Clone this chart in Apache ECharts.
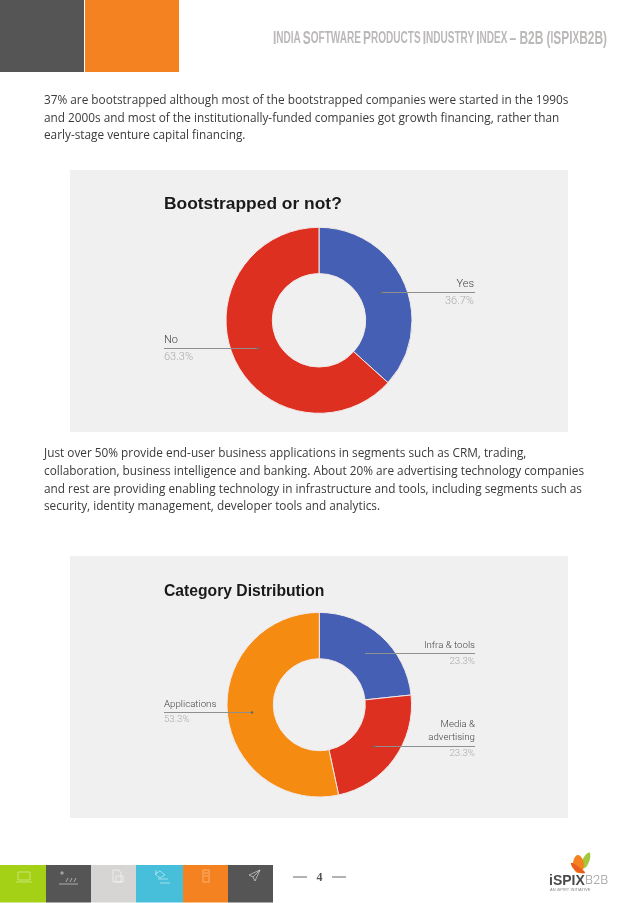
<!DOCTYPE html>
<html>
<head>
<meta charset="utf-8">
<style>html,body{margin:0;padding:0;background:#fff}#c{width:638px;height:903px}</style>
<script src="https://cdn.jsdelivr.net/npm/echarts@6/dist/echarts.min.js"></script>
</head>
<body>
<div id="c"></div>
<script>
// ---- data ----
const chart1Title = 'Bootstrapped or not?';
const chart1Names = ['Yes', 'No'];
const chart1Values = [36.7, 63.3];
const chart1Labels = ['36.7%', '63.3%'];
const chart2Title = 'Category Distribution';
const chart2Names = ['Infra & tools', 'Media &\nadvertising', 'Applications'];
const chart2Values = [23.3, 23.3, 53.3];
const chart2Labels = ['23.3%', '23.3%', '53.3%'];
const para1 = ['37% are bootstrapped although most of the bootstrapped companies were started in the 1990s',
  'and 2000s and most of the institutionally-funded companies got growth financing, rather than',
  'early-stage venture capital financing.'];
const para2 = ['Just over 50% provide end-user business applications in segments such as CRM, trading,',
  'collaboration, business intelligence and banking. About 20% are advertising technology companies',
  'and rest are providing enabling technology in infrastructure and tools, including segments such as',
  'security, identity management, developer tools and analytics.'];

const BODY = '"Open Sans"', LABEL = 'Roboto', TITLE = '"Liberation Sans"';
const g = [];
const rect = (x, y, w, h, fill, z) => g.push({type:'rect', z:z||0, shape:{x,y,width:w,height:h}, style:{fill}});
const text = (x, y, t, o) => g.push(Object.assign({type:'text', z:(o.z||20), x, y,
  style:{text:t, font:o.font, fill:o.fill, align:o.align||'left', verticalAlign:'middle'}}, o.extra||{}));
const line = (x1, y, x2, c, w, z) => g.push({type:'line', z:z||15, shape:{x1,y1:y,x2,y2:y}, style:{stroke:c, lineWidth:w||1}});
const dot = (x, y) => g.push({type:'circle', z:16, shape:{cx:x,cy:y,r:1.2}, style:{fill:'#666'}});

// header
rect(0, 0, 84, 72, '#555556');
rect(85, 0, 94, 72, '#f58220');
g.push({type:'text', z:20, x:607, y:39, scaleX:0.627, style:{
  align:'right', verticalAlign:'middle',
  text:'{b|I}{s|NDIA} {b|S}{s|OFTWARE} {b|P}{s|RODUCTS} {b|I}{s|NDUSTRY} {b|I}{s|NDEX} {b|– B2B (}{s|I}{b|SPI}{s|X}{b|B2B)}',
  rich:{
    b:{font:'bold 19px "Liberation Sans"', fill:'#bbb8b8'},
    s:{font:'bold 16px "Liberation Sans"', fill:'#bbb8b8'}
  }}});

// body text
para1.forEach((t, i) => text(44, 101 + i * 17.5, t, {font:'11.8px ' + BODY, fill:'#3a3a3a'}));
para2.forEach((t, i) => text(44, 454 + i * 17.6, t, {font:'11.8px ' + BODY, fill:'#3a3a3a'}));

// panels
rect(70, 170, 498, 262, '#f0f0f0');
rect(70, 556, 498, 262, '#f0f0f0');

// chart titles
text(164, 204, chart1Title, {font:'bold 17.4px ' + TITLE, fill:'#1a1a1a'});
text(164, 592, chart2Title, {font:'bold 15.7px ' + TITLE, fill:'#1a1a1a'});

// chart 1 callouts
const font1 = '300 11px ' + LABEL, font2 = '300 9.7px ' + LABEL, nameCol = '#444', pctCol = '#ababab';
const leader = '#8f8f8f';
text(474, 284, chart1Names[0], {font:font1, fill:nameCol, align:'right'});
line(381, 292.5, 475, leader); dot(381, 292.5);
text(474, 301, chart1Labels[0], {font:font1, fill:pctCol, align:'right'});
text(164, 340, chart1Names[1], {font:font1, fill:nameCol});
line(164, 348.5, 258, leader); dot(258, 348.5);
text(164, 357, chart1Labels[1], {font:font1, fill:pctCol});

// chart 2 callouts
text(475, 646, chart2Names[0], {font:font2, fill:nameCol, align:'right'});
line(365, 653.5, 475, leader);
text(475, 661.5, chart2Labels[0], {font:font2, fill:pctCol, align:'right'});
const media = chart2Names[1].split('\n');
text(475, 725, media[0], {font:font2, fill:nameCol, align:'right'});
text(475, 738, media[1], {font:font2, fill:nameCol, align:'right'});
line(374, 746.5, 475, leader); dot(374, 746.5);
text(475, 754, chart2Labels[1], {font:font2, fill:pctCol, align:'right'});
text(164, 704.5, chart2Names[2], {font:font2, fill:nameCol});
line(164, 712.5, 252, leader); dot(252, 712.5);
text(164, 720, chart2Labels[2], {font:font2, fill:pctCol});

// footer tiles
[[0,46,'#a4d116'],[46,45,'#555556'],[91,45,'#d6d5d3'],[136,47,'#47bfdb'],[183,45,'#f58220'],[228,45,'#555556']]
  .forEach(t => rect(t[0], 865, t[1], 37.5, t[2]));

// footer icons
const icon = (c, ...runs) => runs.forEach(points => g.push({type:'polyline', z:20, shape:{points}, style:{fill:null, stroke:c, lineWidth:0.7, opacity:0.8}}));
icon('#e9f5b8', [[18,872],[30,872],[30,880],[18,880],[18,872]], [[16,882],[32,882]]);
icon('#f2f2f2', [[62,871],[62,875]], [[60,873],[64,873]], [[59,884],[78,884]], [[66,882],[68,878]], [[70,882],[72,878]], [[74,882],[76,878]]);
icon('#ffffff', [[113,870],[119,870],[121,873],[121,882],[113,882],[113,870]], [[116,876],[123,876],[123,882],[116,882],[116,876]]);
icon('#e8f8fc', [[155,874],[160,871],[165,875],[160,878],[155,874]], [[158,879],[168,879]], [[160,883],[170,883]], [[156,870],[156,874]]);
icon('#fcd9b0', [[203,870],[209,870],[209,882],[203,882],[203,870]], [[204,873],[208,873]], [[204,876],[208,876]]);
icon('#f2f2f2', [[249,875],[260,870],[255,881],[253,877],[249,875]], [[253,877],[260,870]]);

// page number
line(293, 877, 307, '#666', 1);
line(332, 877, 346, '#666', 1);
text(319.5, 878, '4', {font:'bold 12px "Liberation Serif"', fill:'#555', align:'center'});

// logo
const leaf = (points, fill, z) => g.push({type:'polygon', z, shape:{points, smooth:0.5}, style:{fill}});
leaf([[590,853],[584,857],[581,868],[587,866]], '#a4c83c', 20);
leaf([[578,855],[573,864],[578,873],[584,865]], '#f58220', 21);
leaf([[571,863],[576,871],[585,873],[579,867]], '#e8601c', 22);
text(549, 881, 'iSPIX', {font:'bold 14px "Liberation Sans"', fill:'#4a4a4a'});
text(585, 881, 'B2B', {font:'300 13px ' + LABEL, fill:'#9a9a9a'});
text(550, 890, 'AN iSPIRT INITIATIVE', {font:'4px "Liberation Sans"', fill:'#888'});

const toData = (names, vals) => names.map((n, i) => ({name:n, value:vals[i]}));
const pie = (center, radius, data, color) => ({
  type:'pie', z:5, center, radius, startAngle:90, clockwise:true, silent:true, animation:false,
  label:{show:false}, labelLine:{show:false}, color,
  itemStyle:{borderColor:'#f3e9e9', borderWidth:1}, data
});

const chart = echarts.init(document.getElementById('c'), null, {renderer:'canvas'});
chart.setOption({
  animation:false,
  backgroundColor:'#ffffff',
  graphic:{elements:g},
  series:[
    pie([319, 320.3], [46.7, 93], toData(chart1Names, chart1Values), ['#445fb4', '#de3021']),
    pie([319.3, 704.7], [46, 92.3], toData(chart2Names, chart2Values), ['#445fb4', '#de3021', '#f58b10'])
  ]
});
</script>
</body>
</html>
